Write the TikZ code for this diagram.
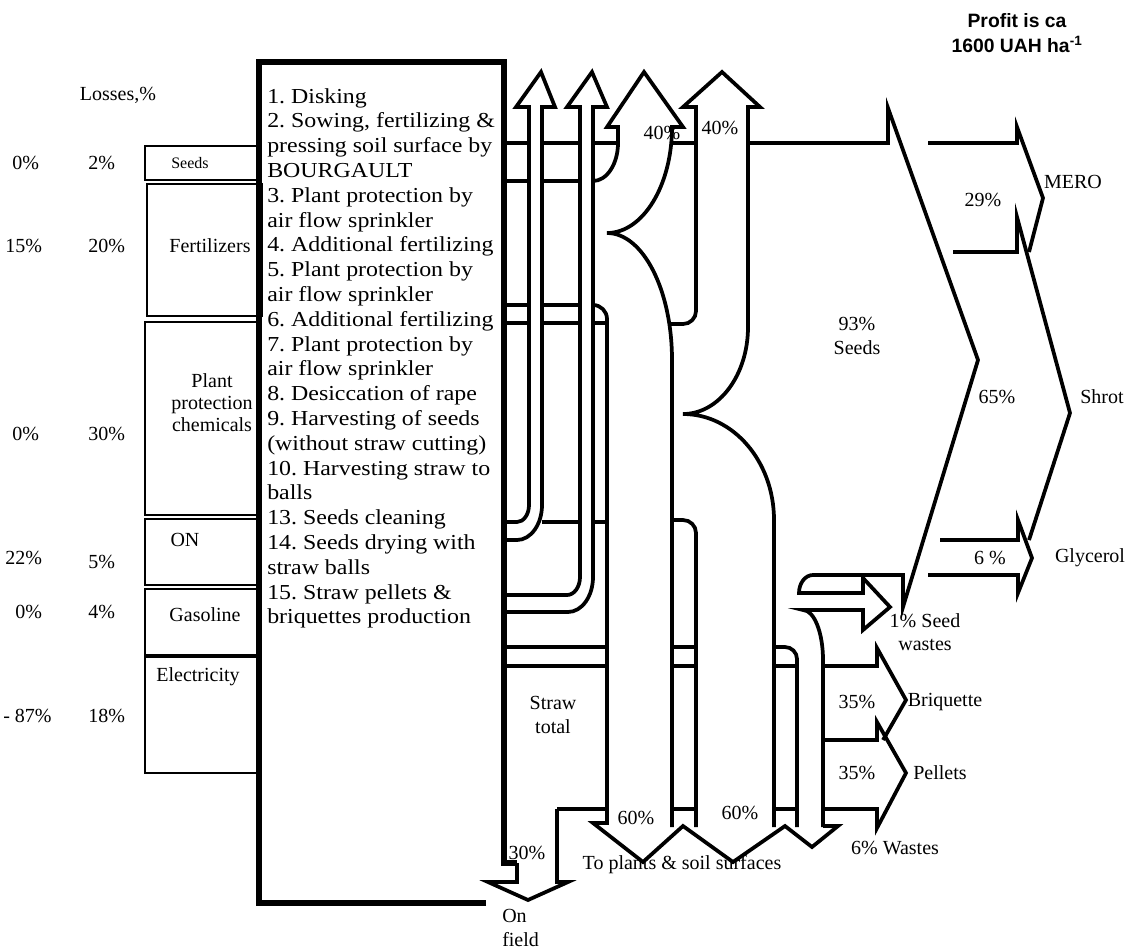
\documentclass[tikz,border=0pt]{standalone}
\usepackage{fontspec}
\setmainfont{Liberation Serif}
\newfontfamily\listfont[FakeStretch=1.12]{Liberation Serif}
\newfontfamily\headfont{Liberation Sans}
\usetikzlibrary{positioning}
\frenchspacing

\begin{document}
\begin{tikzpicture}[x=0.75pt, y=-0.75pt,
  flow/.style={line width=2.8pt, line join=miter},
  frame/.style={line width=3.8pt},
  inbox/.style={draw, line width=1.6pt},
  lbl/.style={font=\fontsize{15}{17.5}\selectfont, inner sep=0pt, align=center}]
\useasboundingbox (0,0) rectangle (1135,951);

\draw[inbox] (145,146) rectangle (258,180);
\draw[inbox] (147,184) rectangle (262,316);
\draw[inbox] (145,322) rectangle (258,515);
\draw[inbox] (145,519) rectangle (258,585);
\draw[inbox] (145,589) rectangle (258,655);
\draw[inbox] (145,657) rectangle (258,773);
\draw[frame] (486,903) -- (259,903) -- (259,62) -- (504,62) -- (504,863) -- (517,863);

\node[lbl] (losses) at (118,95) {Losses,\%};
\node[lbl, anchor=west] (lseed) at (12,163) {0\%};
\node[lbl, anchor=west] (sseed) at (88,163) {2\%};
\node[lbl, anchor=west] (lfert) at (5,246) {15\%};
\node[lbl, anchor=west] (sfert) at (88,246) {20\%};
\node[lbl, anchor=west] (lchem) at (12,434) {0\%};
\node[lbl, anchor=west] (schem) at (88,434) {30\%};
\node[lbl, anchor=west] (lon) at (5,558) {22\%};
\node[lbl, anchor=west] (son) at (88,562) {5\%};
\node[lbl, anchor=west] (lgas) at (15,612) {0\%};
\node[lbl, anchor=west] (sgas) at (88,612) {4\%};
\node[lbl, anchor=west] (lelec) at (3,716) {- 87\%};
\node[lbl, anchor=west] (selec) at (88,716) {18\%};

\node[lbl, font=\fontsize{12}{14}\selectfont] (seeds) at (190,163) {Seeds};
\node[lbl] (fert) at (210,246) {Fertilizers};
\node[lbl, font=\fontsize{15}{16.5}\selectfont] (chem) at (212,403) {Plant\\protection\\chemicals};
\node[lbl] (on) at (185,540) {ON};
\node[lbl] (gas) at (205,615) {Gasoline};
\node[lbl] (elec) at (198,677) {Electricity};

\node[anchor=north west, align=left, inner sep=0pt, font=\listfont\fontsize{16}{18.6}\selectfont] (steps) at (267,88)
  {1. Disking\\2. Sowing, fertilizing \&\\pressing soil surface by\\BOURGAULT\\3. Plant protection by\\air flow sprinkler\\4. Additional fertilizing\\5. Plant protection by\\air flow sprinkler\\6. Additional fertilizing\\7. Plant protection by\\air flow sprinkler\\8. Desiccation of rape\\9. Harvesting of seeds\\(without straw cutting)\\10. Harvesting straw to\\balls\\13. Seeds cleaning\\14. Seeds drying with\\straw balls\\15. Straw pellets \&\\briquettes production};

\draw[flow] (504,522) -- (517,522) arc[start angle=90, end angle=0, x radius=12, y radius=17] -- (529,107) -- (516,107) -- (541,72) -- (555,107) -- (542,107) -- (542,505) arc[start angle=0, end angle=90, x radius=25, y radius=35] -- (504,540);
\draw[flow] (504,595) -- (567,595) arc[start angle=90, end angle=0, x radius=13, y radius=18] -- (580,107) -- (567,107) -- (592,72) -- (607,107) -- (593,107) -- (593,577) arc[start angle=0, end angle=90, x radius=25, y radius=35] -- (504,612);
\draw[flow] (593,181) arc[start angle=90, end angle=0, x radius=25, y radius=38] -- (618,127) -- (607,127) -- (644,72) -- (683,127) -- (672,127) arc[start angle=0, end angle=90, x radius=65, y radius=106] arc[start angle=-90, end angle=0, x radius=65, y radius=127] -- (672,827);
\draw[flow] (669,324) -- (683,324) arc[start angle=90, end angle=0, radius=13] -- (696,107) -- (683,107) -- (722,72) -- (760,107) -- (748,107) -- (748,327) arc[start angle=0, end angle=90, x radius=65, y radius=87] arc[start angle=-90, end angle=0, x radius=91, y radius=106] -- (774,827);
\draw[flow] (748,143) -- (888,143) -- (888,108) -- (978,360) -- (903,607) -- (903,575) -- (813,575) arc[start angle=-90, end angle=-180, x radius=14, y radius=18] -- (863,593) -- (863,578) -- (890,607) -- (863,630) -- (863,610) -- (803,610) arc[start angle=-90, end angle=0, x radius=20, y radius=50] -- (823,827);

\draw[flow] (504,143) -- (529,143) (542,143) -- (580,143) (593,143) -- (618,143) (672,143) -- (696,143);
\draw[flow] (504,181) -- (529,181) (542,181) -- (580,181);
\draw[flow] (504,305) -- (529,305) (542,305) -- (580,305) (593,305) arc[start angle=-90, end angle=0, radius=14] -- (607,823) -- (593,823) -- (643,862) -- (683,826) -- (733,862) -- (785,826) -- (812,847) -- (838,826) -- (823,826);
\draw[flow] (504,323) -- (529,323) (542,323) -- (580,323) (593,323) -- (607,323);
\draw[flow] (542,522) -- (580,522) (593,522) -- (607,522);
\draw[flow] (672,520) -- (683,520) arc[start angle=-90, end angle=0, radius=13] -- (696,827);
\draw[flow] (504,647) -- (607,647) (672,647) -- (696,647) (774,647) -- (785,647) arc[start angle=-90, end angle=0, radius=12] -- (797,827);
\draw[flow] (504,666) -- (607,666) (672,666) -- (696,666) (774,666) -- (797,666) (823,666) -- (877,666) -- (877,648) -- (906,700) -- (883,740);
\draw[flow] (557,809) -- (607,809) (672,809) -- (696,809) (774,809) -- (797,809) (823,809) -- (877,809) -- (877,828) -- (906,773) -- (877,722) -- (877,740) -- (823,740);
\draw[flow] (557,809) -- (557,882) -- (568,882) -- (528,900) -- (488,882) -- (517,882) -- (517,863);

\draw[flow] (928,143) -- (1017,143) -- (1017,127) -- (1043,198) -- (1029,252);
\draw[flow] (953,252) -- (1017,252) -- (1017,217) -- (1070,413) -- (1029,540);
\draw[flow] (940,540) -- (1018,540) -- (1018,520) -- (1032,558) -- (1018,593) -- (1018,575) -- (928,575);

\node[lbl] (loss3) at (662,133) {40\%};
\node[lbl] (loss4) at (720,128) {40\%};
\node[lbl] (seedout) at (857,336) {93\%\\Seeds};
\node[lbl] (pmero) at (983,200) {29\%};
\node[lbl] (mero) at (1073,182) {MERO};
\node[lbl] (pshrot) at (997,397) {65\%};
\node[lbl] (shrot) at (1102,397) {Shrot};
\node[lbl] (pgly) at (990,558) {6 \%};
\node[lbl] (gly) at (1090,558) {Glycerol};
\node[lbl] (swaste) at (925,632) {1\% Seed\\wastes};
\node[lbl] (pbriq) at (857,702) {35\%};
\node[lbl] (briq) at (945,702) {Briquette};
\node[lbl] (ppell) at (857,773) {35\%};
\node[lbl] (pell) at (940,773) {Pellets};
\node[lbl] (waste) at (895,848) {6\% Wastes};
\node[lbl] (straw) at (553,715) {Straw\\total};
\node[lbl] (plant1) at (636,818) {60\%};
\node[lbl] (plant2) at (740,813) {60\%};
\node[lbl] (field) at (527,853) {30\%};
\node[lbl] (soil) at (682,865) {To plants \& soil surfaces};
\node[lbl, anchor=west, align=left] (onfield) at (502,928) {On\\field};
\node[font=\headfont\bfseries\fontsize{14.5}{18.75}\selectfont, align=center, inner sep=0pt] (profit) at (1017,33) {Profit is ca\\1600 UAH ha\textsuperscript{-1}};
\end{tikzpicture}
\end{document}
